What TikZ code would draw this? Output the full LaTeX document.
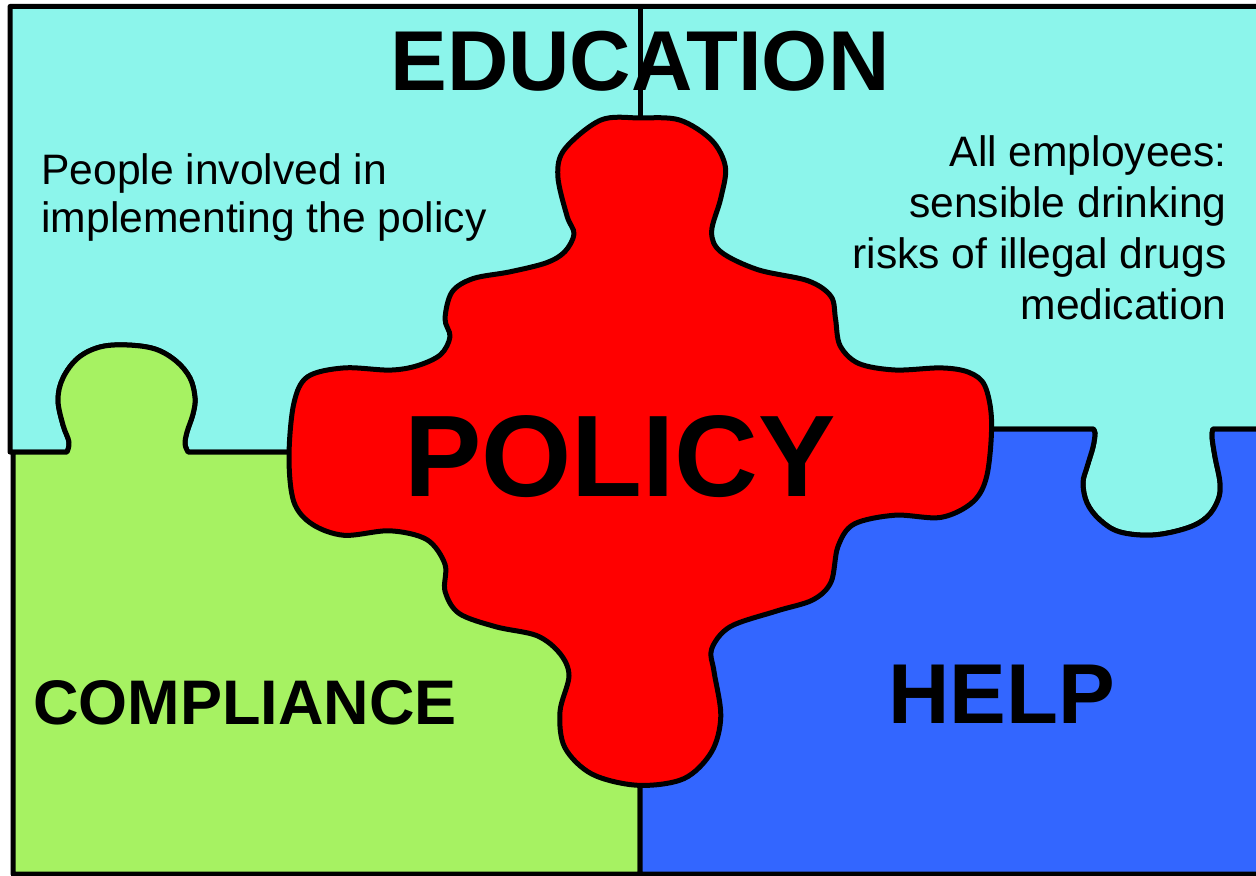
\documentclass[tikz,border=0pt]{standalone}
\usepackage{fontspec}
\setmainfont{Liberation Sans}
\definecolor{educyan}{RGB}{140,245,235}
\definecolor{compgreen}{RGB}{166,242,98}
\definecolor{helpblue}{RGB}{51,102,255}
\definecolor{policyred}{RGB}{255,0,0}
\tikzset{
  piece/.style={draw=black, line width=2.5pt, line join=round},
  title/.style={inner sep=0pt, font=\bfseries\fontsize{#1}{#1}\selectfont},
  note/.style={inner sep=0pt, font=\fontsize{21.3}{24}\selectfont}
}
\begin{document}
\begin{tikzpicture}[x=0.5pt, y=-0.5pt]
\clip (0,0) rectangle (1256,876);
% education (top)
\draw[piece, fill=educyan] (10,452) -- (10,6.5) -- (1262,6.5) -- (1262,429) -- (1213,429)
  -- plot[smooth, tension=0.6] coordinates {(1213,429) (1212,437) (1215,457) (1220,483)
     (1218,500) (1207,517) (1187,528) (1153,535) (1120,532) (1100,520) (1087,503)
     (1083,483) (1087,467) (1093,447) (1095,433) (1093,429)}
  -- (640,429) -- (640,452) -- (188,452)
  -- plot[smooth, tension=0.6] coordinates {(188,452) (185,444) (187,432) (193,414)
     (195,398) (190,378) (176,361) (155,349) (127,345) (100,347) (78,358) (63,378)
     (58,400) (63,425) (69,442) (67,452)}
  -- cycle;
\draw[piece] (640,6.5) -- (640,120);
% compliance (bottom left)
\draw[piece, fill=compgreen] (13,452) -- (67,452)
  -- plot[smooth, tension=0.6] coordinates {(67,452) (69,442) (63,425) (58,400) (63,378)
     (78,358) (100,347) (127,345) (155,349) (176,361) (190,378) (195,398) (193,414)
     (187,432) (185,444) (188,452)}
  -- (640,452) -- (640,874) -- (13,874) -- cycle;
% help (bottom right)
\draw[piece, fill=helpblue] (640,429) -- (1093,429)
  -- plot[smooth, tension=0.6] coordinates {(1093,429) (1095,433) (1093,447) (1087,467)
     (1083,483) (1087,503) (1100,520) (1120,532) (1153,535) (1187,528) (1207,517)
     (1218,500) (1220,483) (1215,457) (1212,437) (1213,429)}
  -- (1262,429) -- (1262,874) -- (640,874) -- cycle;
% policy (centre)
\draw[piece, fill=policyred] plot[smooth cycle, tension=0.55] coordinates {
  (640,118) (679.5,120) (711.6,140.2) (725.4,167) (720.8,198.2) (711.6,231.7)
  (720.8,251.8) (757.5,269.6) (808,280.8) (831,296.4) (835.5,318.8) (840,345.5)
  (858.5,363.4) (895,370) (941,367.9) (968.7,372.3) (984.8,385.7) (991.6,421.4)
  (987,475) (973,501.8) (941,517.4) (895,515.2) (854,524.1) (838,546.4)
  (831,582.1) (812.6,600) (776,611.2) (730,626.8) (711.6,649.1) (714,671.4)
  (720.8,716.1) (711.6,751.8) (684,778.6) (638,785.3) (592,774.1) (564.7,747.3)
  (560,711.6) (569,675.9) (560,653.6) (537,635.7) (496,626.8) (459,613.4)
  (445,591.1) (445,564.3) (427,539.7) (390,530.8) (344,535.3) (312,524.1)
  (293.8,501.8) (289,457.1) (293.8,403.6) (307.5,376.8) (344,367.9) (390,370.1)
  (417.7,365.6) (440.7,354.5) (450,336.6) (445,318.8) (452,292) (473,278.6)
  (509.6,271.9) (546,262.9) (564.7,251.8) (574,233.9) (567,216) (557.8,175.9)
  (564.7,149.1) (601,120)};
% labels
\node[title=42.5, anchor=base] (education) at (640,91) {EDUCATION};
\node[title=58, anchor=base] (policy) at (620,496) {POLICY};
\node[title=31.5, anchor=base west] (compliance) at (33,724) {COMPLIANCE};
\node[title=42.5, anchor=base west] (help) at (888,723) {HELP};
\node[note, anchor=north west, align=left] (trainers) at (41,153)
  {People involved in\\implementing the policy};
\node[note, anchor=north east, align=right, font=\fontsize{21.3}{25.5}\selectfont] (employees) at (1227,135)
  {All employees:\\sensible drinking\\risks of illegal drugs\\medication};
\end{tikzpicture}
\end{document}
